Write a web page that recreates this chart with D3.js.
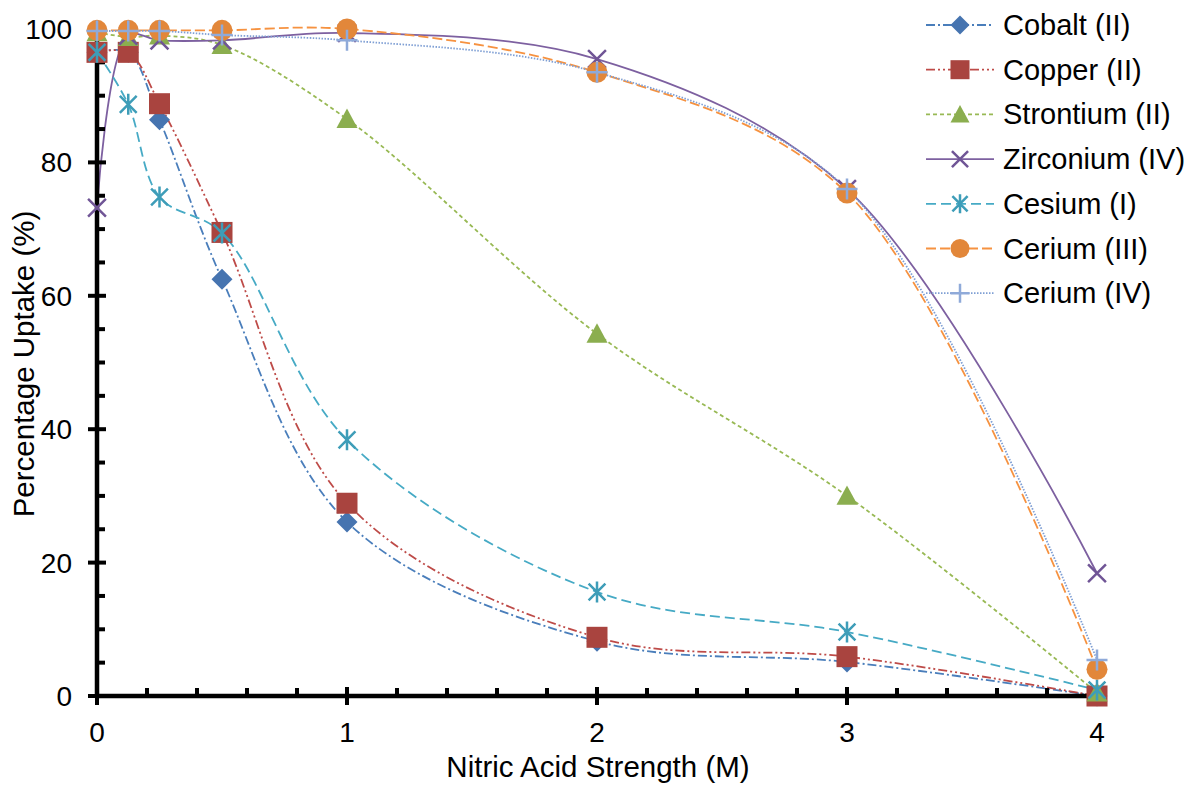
<!DOCTYPE html>
<html>
<head>
<meta charset="utf-8">
<script src="https://cdn.jsdelivr.net/npm/d3@7"></script>
<style>
  body { margin: 0; background: #fff; }
  svg { display: block; font-family: "Liberation Sans", Arial, sans-serif; }
</style>
</head>
<body>
<svg id="chart" width="1194" height="785"></svg>
<script>
// acid strength (M)
const acid = [0, 0.125, 0.25, 0.5, 1, 2, 3, 4];

const cobalt    = [96.5, 96.5, 86.4, 62.5, 26.1, 8.2, 5.1, 0];
const copper    = [96.5, 96.5, 88.8, 69.5, 28.9, 8.8, 5.9, 0];
const strontium = [99.5, 98.8, 99.0, 97.6, 86.5, 54.3, 30.0, 0.5];
const zirconium = [73.2, 99.0, 98.3, 98.3, 99.4, 95.5, 76.0, 18.4];
const cesium    = [96.5, 88.7, 74.8, 69.4, 38.4, 15.6, 9.6, 0.9];
const cerium3   = [99.8, 99.8, 99.8, 99.8, 100, 93.5, 75.4, 4.0];
const cerium4   = [99.7, 99.7, 99.7, 99.1, 98.3, 93.5, 76.0, 5.4];

const seriesNames = ["Cobalt (II)", "Copper (II)", "Strontium (II)", "Zirconium (IV)",
                     "Cesium (I)", "Cerium (III)", "Cerium (IV)"];
const seriesValues = [cobalt, copper, strontium, zirconium, cesium, cerium3, cerium4];

const xMajor = [0, 1, 2, 3, 4];
const yMajor = [0, 20, 40, 60, 80, 100];

// look of each series: line colour, marker colour, dash, marker shape
const styles = [
  { line: "#4A7EBB", fill: "#4674B0", dash: "9,3,2,3",         shape: "diamond" },
  { line: "#BE4B48", fill: "#A9443F", dash: "9,3,2,3,2,3",     shape: "square" },
  { line: "#98B954", fill: "#8BAE4F", dash: "4,3",             shape: "triangle" },
  { line: "#7D60A0", fill: "#705596", dash: null,              shape: "cross" },
  { line: "#46AAC5", fill: "#3E9DB8", dash: "10,5",            shape: "star" },
  { line: "#F69240", fill: "#E2873A", dash: "10,4",            shape: "circle" },
  { line: "#7F9FD4", fill: "#8FAAD9", dash: "1.5,1.5",         shape: "plus" }
];

const svg = d3.select("#chart");

const x = d3.scaleLinear().domain([0, 4]).range([97, 1097]);
const y = d3.scaleLinear().domain([0, 100]).range([696, 29]);

const line = d3.line()
  .x((d, i) => x(acid[i]))
  .y(d => y(d))
  .curve(d3.curveCatmullRom.alpha(0.5));

// series lines
svg.append("g").selectAll("path")
  .data(seriesValues)
  .join("path")
  .attr("d", d => line(d))
  .attr("fill", "none")
  .attr("stroke", (d, i) => styles[i].line)
  .attr("stroke-width", 1.8)
  .attr("stroke-dasharray", (d, i) => styles[i].dash);

// axes (drawn under the markers, over the lines)
const axisG = svg.append("g");
const minorX = d3.range(0, 4.001, 0.2).filter(v => Math.abs(v - Math.round(v)) > 1e-6);
const minorY = d3.range(0, 100.1, 5).filter(v => v % 20 !== 0);

axisG.selectAll(".mx").data(minorX).join("line")
  .attr("x1", d => x(d)).attr("x2", d => x(d))
  .attr("y1", y(0)).attr("y2", y(0) - 8)
  .attr("stroke", "#000").attr("stroke-width", 4);
axisG.selectAll(".Mx").data(xMajor).join("line")
  .attr("x1", d => x(d)).attr("x2", d => x(d))
  .attr("y1", y(0) + 9).attr("y2", y(0) - 9)
  .attr("stroke", "#000").attr("stroke-width", 4);
axisG.selectAll(".my").data(minorY).join("line")
  .attr("x1", x(0)).attr("x2", x(0) + 8)
  .attr("y1", d => y(d)).attr("y2", d => y(d))
  .attr("stroke", "#000").attr("stroke-width", 4);
axisG.selectAll(".My").data(yMajor).join("line")
  .attr("x1", x(0) - 9).attr("x2", x(0) + 9)
  .attr("y1", d => y(d)).attr("y2", d => y(d))
  .attr("stroke", "#000").attr("stroke-width", 4);

axisG.append("line")
  .attr("x1", x(0)).attr("x2", x(4))
  .attr("y1", y(0)).attr("y2", y(0))
  .attr("stroke", "#000").attr("stroke-width", 4.5);
axisG.append("line")
  .attr("x1", x(0)).attr("x2", x(0))
  .attr("y1", y(0) + 2).attr("y2", y(100))
  .attr("stroke", "#000").attr("stroke-width", 4.5);

// tick labels
axisG.selectAll(".lx").data(xMajor).join("text")
  .attr("x", d => x(d)).attr("y", 742)
  .attr("text-anchor", "middle")
  .attr("font-size", 28)
  .text(d => d);
axisG.selectAll(".ly").data(yMajor).join("text")
  .attr("x", 72).attr("y", d => y(d) + 10)
  .attr("text-anchor", "end")
  .attr("font-size", 28)
  .text(d => d);

// axis titles
svg.append("text")
  .attr("x", 598).attr("y", 777)
  .attr("text-anchor", "middle")
  .attr("font-size", 29.5)
  .text("Nitric Acid Strength (M)");
svg.append("text")
  .attr("transform", "translate(34,364) rotate(-90)")
  .attr("text-anchor", "middle")
  .attr("font-size", 29.5)
  .text("Percentage Uptake (%)");

// marker drawing
function drawMarker(g, shape, color, s) {
  const h = s / 2;
  if (shape === "diamond") {
    g.append("path").attr("d", `M0,${-h}L${h},0L0,${h}L${-h},0Z`).attr("fill", color);
  } else if (shape === "square") {
    g.append("rect").attr("x", -h).attr("y", -h).attr("width", s).attr("height", s).attr("fill", color);
  } else if (shape === "triangle") {
    g.append("path").attr("d", `M0,${-h}L${h},${h * 0.85}L${-h},${h * 0.85}Z`).attr("fill", color);
  } else if (shape === "circle") {
    g.append("circle").attr("r", h).attr("fill", color);
  } else if (shape === "cross") {
    const k = h * 0.85;
    g.append("path").attr("d", `M${-k},${-k}L${k},${k}M${-k},${k}L${k},${-k}`)
      .attr("stroke", color).attr("stroke-width", 2.5);
  } else if (shape === "star") {
    const k = h * 0.8;
    g.append("path").attr("d", `M${-k},${-k}L${k},${k}M${-k},${k}L${k},${-k}M0,${-h}L0,${h}`)
      .attr("stroke", color).attr("stroke-width", 2.5);
  } else if (shape === "plus") {
    g.append("path").attr("d", `M${-h},0L${h},0M0,${-h}L0,${h}`)
      .attr("stroke", color).attr("stroke-width", 2.5);
  }
}

// markers
seriesValues.forEach((vals, si) => {
  const st = styles[si];
  vals.forEach((v, i) => {
    const g = svg.append("g").attr("transform", `translate(${x(acid[i])},${y(v)})`);
    drawMarker(g, st.shape, st.fill, 21);
  });
});

// legend
const legend = svg.append("g");
seriesNames.forEach((name, i) => {
  const cy = 25 + i * 44.7;
  const st = styles[i];
  legend.append("line")
    .attr("x1", 926).attr("x2", 994)
    .attr("y1", cy).attr("y2", cy)
    .attr("stroke", st.line).attr("stroke-width", 1.8)
    .attr("stroke-dasharray", st.dash);
  const g = legend.append("g").attr("transform", `translate(960,${cy})`);
  drawMarker(g, st.shape, st.fill, 19);
  legend.append("text")
    .attr("x", 1003).attr("y", cy + 10)
    .attr("font-size", 29)
    .text(name);
});
</script>
</body>
</html>
